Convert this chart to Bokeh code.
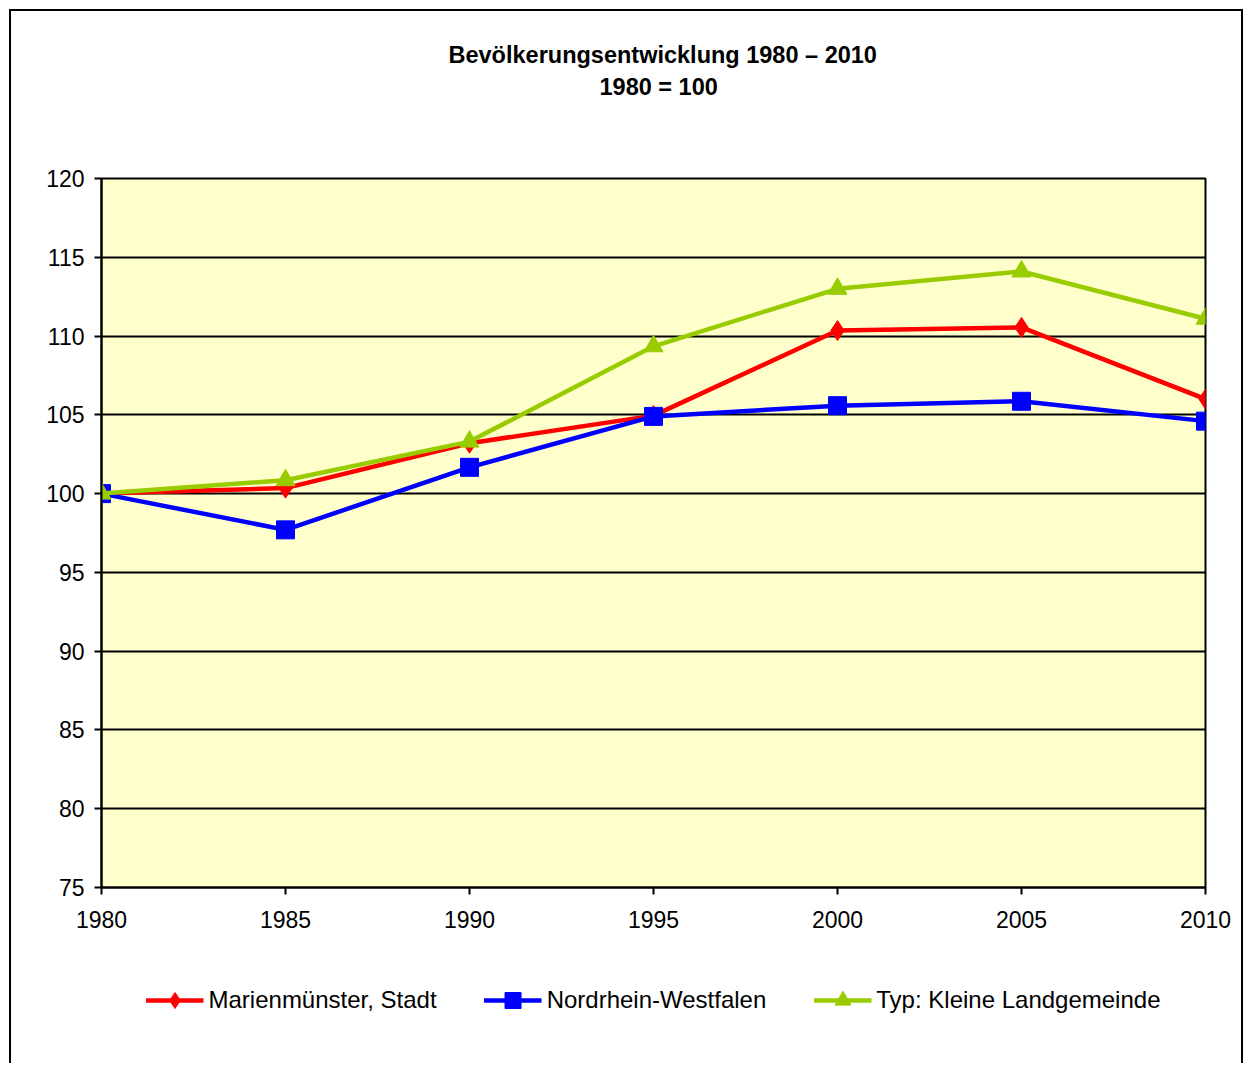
from bokeh.plotting import figure
from bokeh.models import Legend, Title, FixedTicker, Range1d
from bokeh.layouts import column
from bokeh.embed import file_html
from bokeh.resources import INLINE

years = [1980, 1985, 1990, 1995, 2000, 2005, 2010]
marienmuenster = [100, 100.35, 103.2, 104.95, 110.35, 110.55, 106.0]
nrw = [100, 97.7, 101.67, 104.9, 105.58, 105.86, 104.6]
landgemeinde = [100, 100.85, 103.3, 109.35, 113.0, 114.1, 111.1]
y_ticks = [75, 80, 85, 90, 95, 100, 105, 110, 115, 120]

FONT = "Liberation Sans"

p = figure(frame_width=1104, frame_height=709, output_backend="svg",
           toolbar_location=None,
           x_range=Range1d(1980, 2010), y_range=Range1d(75, 120),
           min_border_left=90, min_border_right=36, min_border_top=167,
           min_border_bottom=50)

p.background_fill_color = "#FFFFCC"
p.border_fill_color = "white"
p.outline_line_color = "black"
p.outline_line_width = 2

p.title = Title(text="Bevölkerungsentwicklung 1980 – 2010", align="left", offset=347,
                text_font=FONT, text_font_size="23.5px", text_font_style="bold",
                text_color="black", standoff=4)
p.add_layout(Title(text=" ", text_font_size="1px", standoff=74), "above")
p.add_layout(Title(text="1980 = 100", align="left", offset=498, text_font=FONT,
                   text_font_size="23.5px", text_font_style="bold",
                   text_color="black", standoff=4), "above")

p.xaxis.ticker = FixedTicker(ticks=years)
p.yaxis.ticker = FixedTicker(ticks=y_ticks)
for ax in (p.xaxis[0], p.yaxis[0]):
    ax.axis_line_color = "black"
    ax.axis_line_width = 2
    ax.major_tick_line_color = "black"
    ax.major_tick_line_width = 2
    ax.major_tick_out = 7
    ax.major_tick_in = 0
    ax.minor_tick_line_color = None
    ax.major_label_text_font = FONT
    ax.major_label_text_font_size = "23px"
    ax.major_label_text_color = "black"
p.xaxis.major_label_standoff = 16
p.yaxis.major_label_standoff = 10

p.xgrid.grid_line_color = None
p.ygrid.grid_line_color = "black"
p.ygrid.grid_line_width = 2
p.ygrid.grid_line_alpha = 1

series = [
    ("Marienmünster, Stadt", marienmuenster, "#FF0000", "diamond", 20),
    ("Nordrhein-Westfalen", nrw, "#0000FF", "square", 18),
    ("Typ: Kleine Landgemeinde", landgemeinde, "#99CC00", "triangle", 19),
]
for name, vals, col, mk, sz in series:
    p.line(years, vals, line_color=col, line_width=4.5)
    p.scatter(years, vals, marker=mk, size=sz, fill_color=col, line_color=col)

# Legend strip: a second figure whose ranges keep its copies of the series out of view,
# so only the legend entries are drawn.
p2 = figure(frame_width=1104, frame_height=126, output_backend="svg",
            toolbar_location=None, x_range=Range1d(0, 1), y_range=Range1d(0, 1),
            min_border_left=90, min_border_right=36, min_border_top=0,
            min_border_bottom=0)
p2.axis.visible = False
p2.grid.grid_line_color = None
p2.outline_line_color = None
p2.background_fill_color = "white"
p2.border_fill_color = "white"
items = []
for name, vals, col, mk, sz in series:
    r1 = p2.line(years, vals, line_color=col, line_width=4.5)
    r2 = p2.scatter(years, vals, marker=mk, size=sz, fill_color=col, line_color=col)
    items.append((name, [r1, r2]))
legend = Legend(items=items, orientation="horizontal", location="center",
                label_text_font=FONT, label_text_font_size="24px",
                label_text_color="black",
                glyph_width=58, glyph_height=40, label_standoff=5, spacing=47,
                border_line_color=None, background_fill_alpha=0,
                margin=0, padding=0)
p2.add_layout(legend, "center")

layout = column(p, p2, spacing=0,
                styles={"margin-left": "9px", "margin-top": "9px",
                        "border-left": "2px solid black",
                        "border-top": "2px solid black",
                        "border-right": "2px solid black"})

open("out.html", "w").write(file_html(layout, INLINE))
